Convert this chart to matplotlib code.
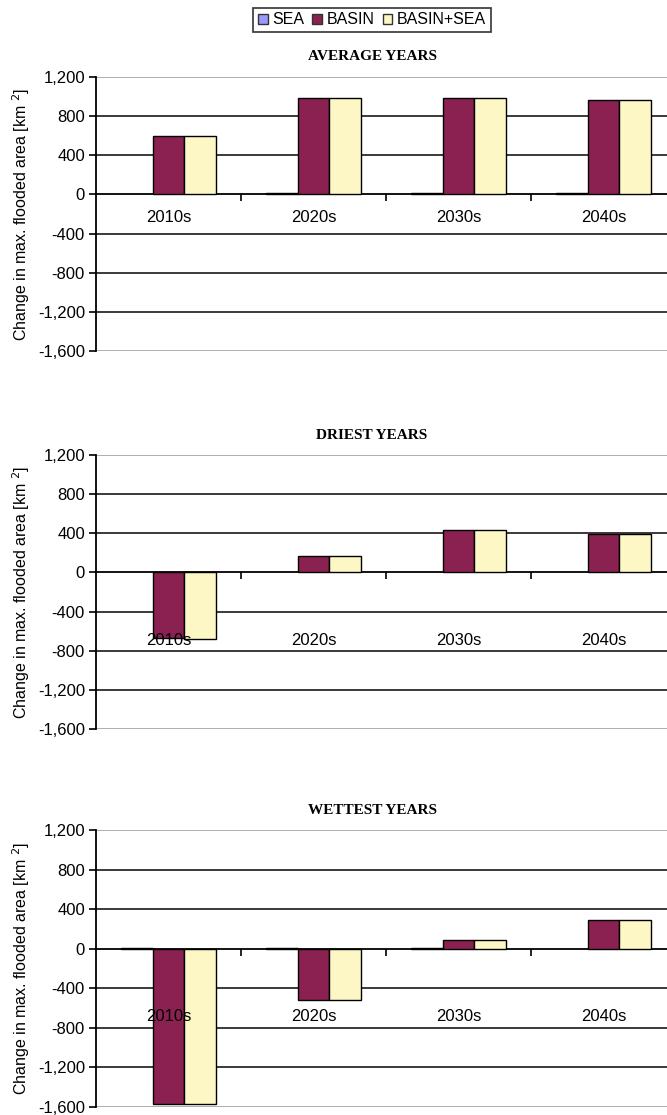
import numpy as np
import matplotlib.pyplot as plt
from matplotlib.ticker import FuncFormatter

# change in maximum flooded area (km2) per decade and scenario
decades = ['2010s', '2020s', '2030s', '2040s']
series_names = ['SEA', 'BASIN', 'BASIN+SEA']

avg_sea = [0, 10, 10, 10]
avg_basin = [600, 985, 985, 970]
avg_basin_sea = [600, 985, 985, 970]

dry_sea = [0, 0, 0, 0]
dry_basin = [-670, 170, 430, 395]
dry_basin_sea = [-680, 170, 430, 395]

wet_sea = [10, 10, 10, 0]
wet_basin = [-1570, -520, 85, 290]
wet_basin_sea = [-1570, -520, 85, 290]

panels = [
    ('AVERAGE YEARS', avg_sea, avg_basin, avg_basin_sea),
    ('DRIEST YEARS', dry_sea, dry_basin, dry_basin_sea),
    ('WETTEST YEARS', wet_sea, wet_basin, wet_basin_sea),
]

colors = ['#9999ff', '#8a2151', '#fcf7c4']
yticks = [1200, 800, 400, 0, -400, -800, -1200, -1600]

plt.rcParams['font.family'] = 'Liberation Sans'

W, H = 667, 1115
fig = plt.figure(figsize=(W / 100, H / 100), dpi=100)

# axes boxes in pixels: (top, bottom), and how far the decade labels sit below zero
boxes = [(77, 351), (455, 729), (830, 1107)]
label_drop = [23, 68, 68]
left, right = 96, 676

x = np.arange(len(decades))
bw = 0.22

for (title, sea, basin, bsea), (top, bot), drop in zip(panels, boxes, label_drop):
    ax = fig.add_axes([left / W, 1 - bot / H, (right - left) / W, (bot - top) / H])
    ax.set_xlim(-0.5, len(decades) - 0.5)
    ax.set_ylim(-1600, 1200)

    for k, vals in enumerate([sea, basin, bsea]):
        edges = ['black' if v != 0 else 'none' for v in vals]
        ax.bar(x + (k - 1) * bw, vals, bw, color=colors[k], edgecolor=edges,
               linewidth=1, label=series_names[k], zorder=3)

    # horizontal gridlines
    for v in yticks:
        if v in (1200, -1600):
            ax.axhline(v, color='#a8a8a8', lw=1.3, zorder=1)
        elif v != 0:
            ax.axhline(v, color='#3a3a3a', lw=1.4, zorder=1)

    ax.spines['top'].set_visible(False)
    ax.spines['right'].set_visible(False)
    ax.spines['left'].set_linewidth(1.3)
    ax.spines['bottom'].set_position(('data', 0))
    ax.spines['bottom'].set_linewidth(1.3)
    ax.spines['bottom'].set_zorder(2)

    ax.set_yticks(yticks)
    ax.yaxis.set_major_formatter(FuncFormatter(lambda v, p: f'{int(v):,}'))
    ax.tick_params(axis='y', direction='out', length=5, width=1.2, labelsize=12, pad=3)

    # category labels under the zero line, drawn over the bars
    ax.set_xticks([])
    ax.set_xticks(x[:-1] + 0.5, minor=True)
    ax.tick_params(axis='x', which='minor', direction='out', length=5, width=1.2)
    for xi, lab in zip(x, decades):
        ax.annotate(lab, (xi, 0), xytext=(0, -drop * 0.72), textcoords='offset points',
                    ha='center', va='center', fontsize=12, zorder=6)

    ax.set_ylabel('Change in max. flooded area [km $^{2}$]', fontsize=11.5,
                  labelpad=4)
    ax.text((372 - left) / (right - left), 1 + 20 / (bot - top), title,
            transform=ax.transAxes, ha='center', va='center',
            family='Liberation Serif', fontweight='bold', fontsize=11)

    if title == 'AVERAGE YEARS':
        handles, labels = ax.get_legend_handles_labels()

leg = fig.legend(handles, labels, loc='center', bbox_to_anchor=(372 / W, 1 - 20 / H),
                 ncol=3, fontsize=11.5, frameon=True, fancybox=False,
                 edgecolor='black', handlelength=0.6, handleheight=0.6,
                 handletextpad=0.3, columnspacing=0.5, borderpad=0.3,
                 borderaxespad=0)
leg.get_frame().set_linewidth(1.2)
for h in leg.legend_handles:
    h.set_edgecolor('#333333')

fig.savefig('out.png', dpi=100)
